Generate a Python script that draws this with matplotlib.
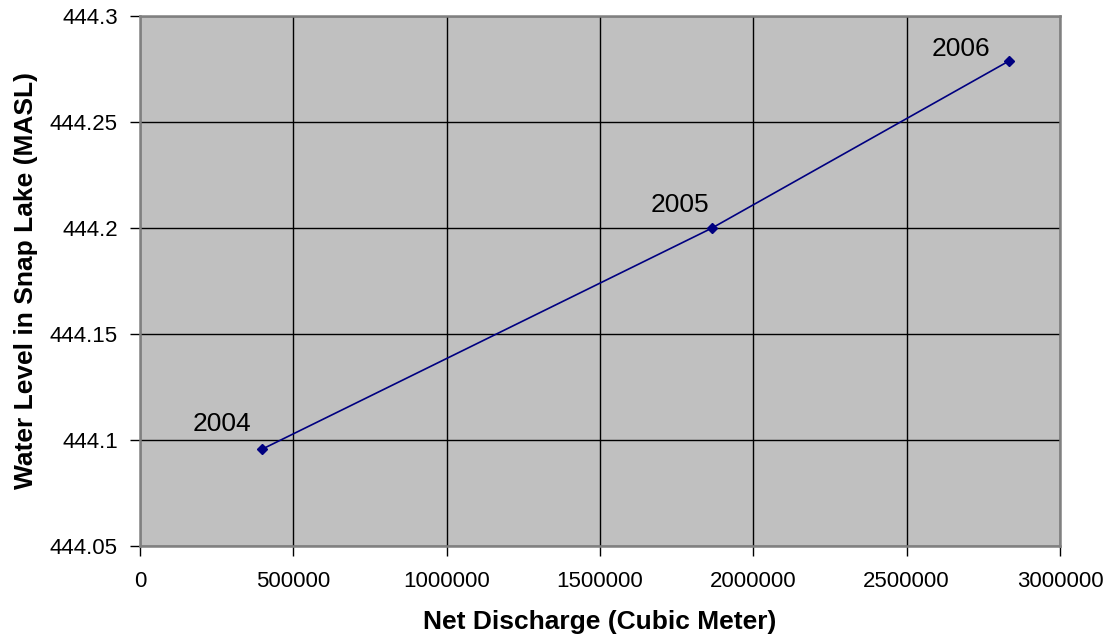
import matplotlib
matplotlib.use("Agg")
import matplotlib.pyplot as plt

years = ["2004", "2005", "2006"]
discharge = [399000, 1864000, 2833000]
water_level = [444.0957, 444.1998, 444.2786]
label_offsets = [(-40.6, 18.3), (-31.2, 16.6), (-47.9, 5.3)]

xticks = [0, 500000, 1000000, 1500000, 2000000, 2500000, 3000000]
yticks = [444.05, 444.1, 444.15, 444.2, 444.25, 444.3]
ytick_labels = ["444.05", "444.1", "444.15", "444.2", "444.25", "444.3"]

plt.rcParams['font.family'] = ['Liberation Sans', 'DejaVu Sans']

fig = plt.figure(figsize=(11.1, 6.39), dpi=100)
ax = fig.add_axes([140/1110, 1-546/639, 920/1110, 530.3/639])
ax.set_facecolor('#c0c0c0')

ax.plot(discharge, water_level, color='#000080', linewidth=1.2, marker='D',
        markersize=5, markerfacecolor='#000080', markeredgecolor='#000080', zorder=3)

for x, y, lab, off in zip(discharge, water_level, years, label_offsets):
    ax.annotate(lab, (x, y), xytext=off, textcoords='offset pixels',
                ha='center', va='baseline', fontsize=19, color='black')

ax.set_xlim(0, 3000000)
ax.set_ylim(444.05, 444.3)
ax.set_xticks(xticks)
ax.set_xticklabels([str(v) for v in xticks])
ax.set_yticks(yticks)
ax.set_yticklabels(ytick_labels)
ax.grid(True, color='black', linewidth=1.0)
ax.set_axisbelow(True)
for s in ax.spines.values():
    s.set_color('#808080')
    s.set_linewidth(1.8)
ax.tick_params(axis='both', direction='out', length=7, width=1, color='black',
               labelsize=16)
ax.tick_params(axis='x', pad=11)
ax.tick_params(axis='y', pad=9)

ax.set_xlabel('Net Discharge (Cubic Meter)', fontsize=19, fontweight='bold', va='baseline')
ax.set_ylabel('Water Level in Snap Lake (MASL)', fontsize=19, fontweight='bold', va='center')
ax.xaxis.set_label_coords(0.5, (546 - 629) / 530.3)
ax.yaxis.set_label_coords((26 - 140) / 920, 0.5)

fig.savefig('out.png', dpi=100)
